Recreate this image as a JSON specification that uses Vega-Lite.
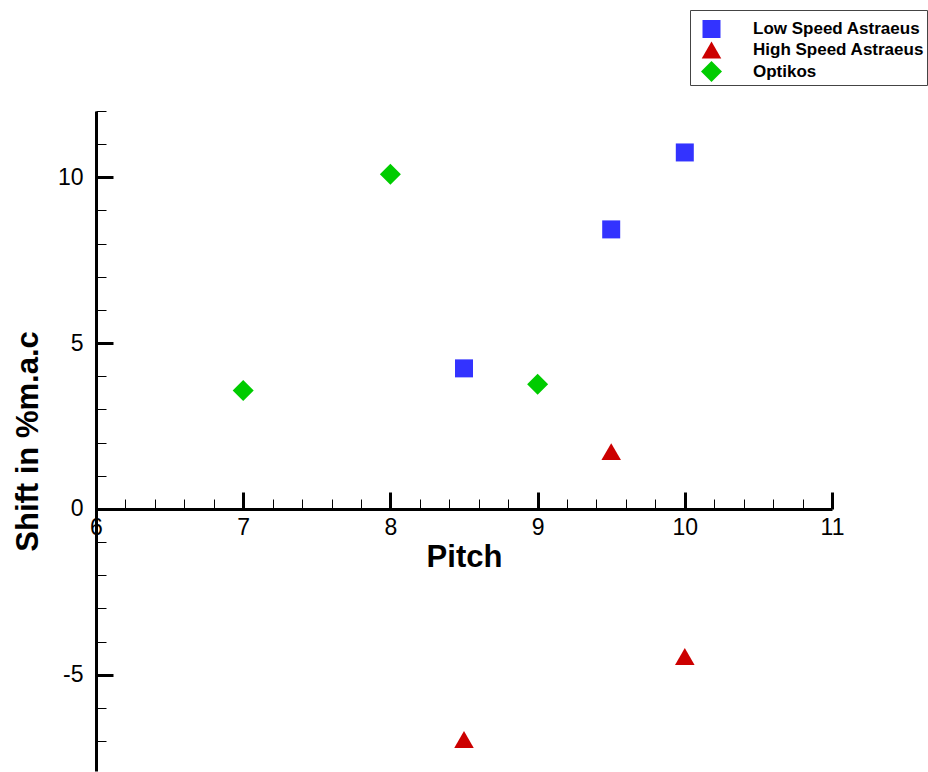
{
  "$schema": "https://vega.github.io/schema/vega-lite/v6.json",
  "width": 736,
  "height": 660,
  "autosize": "none",
  "padding": {"left": 96, "top": 111, "right": 96, "bottom": 1},
  "background": "white",
  "config": {
    "view": {"stroke": null},
    "font": "Liberation Sans",
    "axis": {
      "domainColor": "black",
      "tickColor": "black",
      "labelColor": "black",
      "titleColor": "black",
      "grid": false,
      "labelFont": "Liberation Sans",
      "titleFont": "Liberation Sans"
    },
    "legend": {
      "orient": "none",
      "legendX": 594,
      "legendY": -101,
      "strokeColor": "#444444",
      "strokeWidth": 1,
      "padding": 3,
      "titleFontSize": 1,
      "titlePadding": 6,
      "symbolOffset": 8,
      "labelFont": "Liberation Sans",
      "labelFontWeight": "bold",
      "labelFontSize": 17,
      "labelColor": "black",
      "labelOffset": 31,
      "labelLimit": 400,
      "rowPadding": 2,
      "symbolStrokeWidth": 0
    }
  },
  "data": {
    "values": [
      {"series": "Low Speed Astraeus", "pitch": 8.5, "shift": 4.24},
      {"series": "Low Speed Astraeus", "pitch": 9.5, "shift": 8.43},
      {"series": "Low Speed Astraeus", "pitch": 10, "shift": 10.75},
      {"series": "High Speed Astraeus", "pitch": 8.5, "shift": -6.95},
      {"series": "High Speed Astraeus", "pitch": 9.5, "shift": 1.73},
      {"series": "High Speed Astraeus", "pitch": 10, "shift": -4.45},
      {"series": "Optikos", "pitch": 7, "shift": 3.57},
      {"series": "Optikos", "pitch": 8, "shift": 10.09},
      {"series": "Optikos", "pitch": 9, "shift": 3.76}
    ]
  },
  "layer": [
    {
      "mark": {"type": "point", "filled": true, "opacity": 1, "strokeWidth": 0},
      "encoding": {
        "x": {
          "field": "pitch",
          "type": "quantitative",
          "scale": {"domain": [6, 11], "nice": false, "zero": false},
          "axis": {
            "orient": "bottom",
            "offset": -262,
            "values": [6, 7, 8, 9, 10, 11],
            "tickSize": -17,
            "tickWidth": 3,
            "domainWidth": 3,
            "labelFontSize": 23,
            "labelPadding": 24,
            "labelFlush": false,
            "title": "Pitch",
            "titleFontSize": 31,
            "titleFontWeight": "bold",
            "titlePadding": 3
          }
        },
        "y": {
          "field": "shift",
          "type": "quantitative",
          "scale": {"domain": [-7.9, 12], "nice": false, "zero": false},
          "axis": {
            "orient": "left",
            "values": [-5, 0, 5, 10],
            "labelExpr": "datum.value < 0 ? '-' + abs(datum.value) : '' + datum.value",
            "tickSize": -17,
            "tickWidth": 3,
            "domainWidth": 3,
            "labelFontSize": 23,
            "labelPadding": 30,
            "labelFlush": false,
            "title": "Shift in %m.a.c",
            "titleFontSize": 31,
            "titleFontWeight": "bold",
            "titlePadding": 13
          }
        },
        "color": {
          "field": "series",
          "type": "nominal",
          "title": " ",
          "scale": {
            "domain": ["Low Speed Astraeus", "High Speed Astraeus", "Optikos"],
            "range": ["#3333ff", "#cc0000", "#00cc00"]
          }
        },
        "shape": {
          "field": "series",
          "type": "nominal",
          "title": " ",
          "scale": {
            "domain": ["Low Speed Astraeus", "High Speed Astraeus", "Optikos"],
            "range": ["square", "triangle-up", "diamond"]
          }
        },
        "size": {
          "field": "series",
          "type": "nominal",
          "title": " ",
          "scale": {
            "domain": ["Low Speed Astraeus", "High Speed Astraeus", "Optikos"],
            "range": [324, 441, 576]
          }
        }
      }
    },
    {
      "mark": {"type": "point", "opacity": 0},
      "encoding": {
        "x": {
          "field": "pitch",
          "type": "quantitative",
          "axis": {
            "orient": "bottom",
            "offset": -262,
            "values": [6.2, 6.4, 6.6, 6.8, 7.2, 7.4, 7.6, 7.8, 8.2, 8.4, 8.6, 8.8, 9.2, 9.4, 9.6, 9.8, 10.2, 10.4, 10.6, 10.8],
            "tickSize": -10,
            "tickWidth": 1,
            "labels": false,
            "domain": false,
            "title": null
          }
        },
        "y": {
          "field": "shift",
          "type": "quantitative",
          "axis": {
            "orient": "left",
            "values": [-7, -6, -4, -3, -2, -1, 1, 2, 3, 4, 6, 7, 8, 9, 11, 12],
            "tickSize": -10,
            "tickWidth": 1,
            "labels": false,
            "domain": false,
            "title": null
          }
        }
      }
    }
  ],
  "resolve": {"axis": {"x": "independent", "y": "independent"}}
}
